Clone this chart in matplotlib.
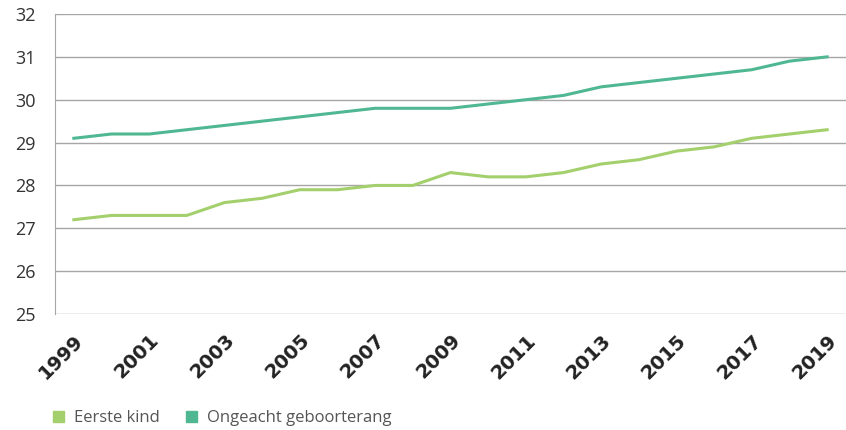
import matplotlib
matplotlib.use('Agg')
import matplotlib.pyplot as plt
from matplotlib.patches import Patch
import numpy as np

# data
jaren = list(range(1999, 2020))
eerste_kind = [27.2, 27.3, 27.3, 27.3, 27.6, 27.7, 27.9, 27.9, 28.0, 28.0, 28.3,
               28.2, 28.2, 28.3, 28.5, 28.6, 28.8, 28.9, 29.1, 29.2, 29.3]
ongeacht = [29.1, 29.2, 29.2, 29.3, 29.4, 29.5, 29.6, 29.7, 29.8, 29.8, 29.8,
            29.9, 30.0, 30.1, 30.3, 30.4, 30.5, 30.6, 30.7, 30.9, 31.0]

kleur_eerste = '#a3d06c'
kleur_ongeacht = '#4fb893'

fig = plt.figure(figsize=(8.46, 4.30), dpi=100)
ax = fig.add_axes([55/846, 1 - 314/430, 791/846, 300/430])

x = np.arange(len(jaren))
ax.plot(x, eerste_kind, color=kleur_eerste, lw=2.2)
ax.plot(x, ongeacht, color=kleur_ongeacht, lw=2.2)

ax.set_xlim(-0.5, len(jaren) - 0.5)
ax.set_ylim(25, 32)
ax.set_yticks(range(25, 33))
ax.yaxis.grid(True, color='#a6a6a6', lw=1)
ax.set_axisbelow(True)

for s in ['top', 'right', 'bottom']:
    ax.spines[s].set_visible(False)
ax.spines['left'].set_color('#a6a6a6')
ax.tick_params(axis='y', length=0, pad=14, labelsize=13, labelcolor='#333333')
ax.tick_params(axis='x', length=0, pad=12)
for lab in ax.get_yticklabels():
    lab.set_fontfamily('Open Sans')

ax.set_xticks(x[::2])
ax.set_xticklabels([str(j) for j in jaren[::2]], rotation=45, ha='right',
                   rotation_mode='anchor', fontsize=14, fontweight='bold',
                   color='#222222', family='DejaVu Sans')

# legenda met vierkantjes
handles = [Patch(color=kleur_eerste, label='Eerste kind'),
           Patch(color=kleur_ongeacht, label='Ongeacht geboorterang')]
leg = fig.legend(handles=handles, loc='center left',
                 bbox_to_anchor=(46/846, 1 - 418/430),
                 ncol=2, frameon=False, handlelength=0.65, handleheight=0.65,
                 handletextpad=0.6, columnspacing=1.6, borderaxespad=0,
                 prop={'family': 'Open Sans', 'size': 12})
for t in leg.get_texts():
    t.set_color('#555555')

fig.savefig('out.png', dpi=100)
